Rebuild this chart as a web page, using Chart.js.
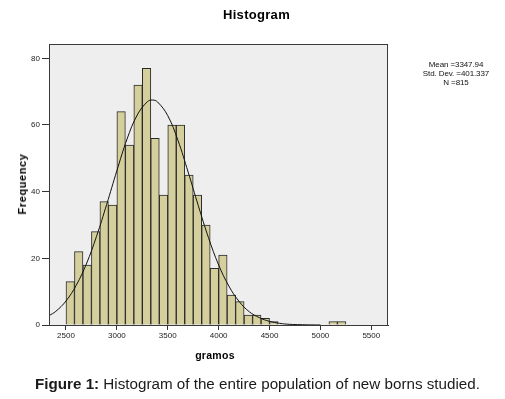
<!DOCTYPE html>
<html lang="en">
<head>
<meta charset="UTF-8">
<title>Histogram</title>
<script src="https://cdn.jsdelivr.net/npm/chart.js"></script>
<style>
  html, body { margin: 0; padding: 0; background: #fff; }
  body { width: 505px; height: 399px; position: relative; overflow: hidden; font-family: Arial, "Liberation Sans", sans-serif; }
  #c { position: absolute; left: 0; top: 0; }
  .txt { position: absolute; color: #000; white-space: nowrap; }
  #title { left: 223px; top: 7px; font-size: 13px; font-weight: bold; letter-spacing: 0.3px; }
  #ytitle { left: 22px; top: 184px; font-size: 11px; font-weight: bold; letter-spacing: 0.6px; transform: translate(-50%, -50%) rotate(-90deg); }
  #xtitle { left: 215px; top: 355px; font-size: 10.5px; font-weight: bold; letter-spacing: 0.3px; transform: translate(-50%, -50%); }
  #stats { left: 456px; top: 60px; font-size: 8px; line-height: 9px; text-align: center; transform: translateX(-50%); color: #111; letter-spacing: -0.1px; }
  #caption { left: 35px; top: 375px; font-size: 15.2px; color: #1a1a1a; }
</style>
</head>
<body>
<canvas id="c" width="505" height="399"></canvas>
<div class="txt" id="title">Histogram</div>
<div class="txt" id="ytitle">Frequency</div>
<div class="txt" id="xtitle">gramos</div>
<div class="txt" id="stats"></div>
<div class="txt" id="caption"><b>Figure 1:</b> Histogram of the entire population of new borns studied.</div>

<script>
// bin midpoints (gramos), bin width 83.3
var binMid = [2541.7, 2625, 2708.3, 2791.7, 2875, 2958.3, 3041.7, 3125, 3208.3, 3291.7,
              3375, 3458.3, 3541.7, 3625, 3708.3, 3791.7, 3875, 3958.3, 4041.7, 4125,
              4208.3, 4291.7, 4375, 4458.3, 4541.7, 5125, 5208.3];
var counts = [13, 22, 18, 28, 37, 36, 64, 54, 72, 77,
              56, 39, 60, 60, 45, 39, 30, 17, 21, 9,
              7, 3, 3, 2, 1, 1, 1];

// normal curve
var curveX = [2333, 2400, 2500, 2600, 2700, 2800, 2900, 3000, 3100, 3200, 3300, 3350,
              3400, 3500, 3600, 3700, 3800, 3900, 4000, 4100, 4200, 4300, 4400, 4500,
              4600, 4700, 4800, 4900, 5000];
var curveY = [2.8, 4.1, 7.2, 11.9, 18.3, 26.6, 36.2, 46.3, 55.8, 63.0, 67.0, 67.5,
              66.9, 62.8, 55.4, 45.9, 35.8, 26.2, 18.0, 11.7, 7.1, 4.0, 2.2, 1.1,
              0.5, 0.2, 0.1, 0.04, 0.01];

var xTicks = [2500, 3000, 3500, 4000, 4500, 5000, 5500];
var yTicks = [0, 20, 40, 60, 80];
var statsLines = ['Mean =3347.94', 'Std. Dev. =401.337', 'N =815'];

document.getElementById('stats').innerHTML = statsLines.join('<br>');

var barData = binMid.map(function (x, i) { return { x: x, y: counts[i] }; });
var lineData = curveX.map(function (x, i) { return { x: x, y: curveY[i] }; });

// plot background and frame
var framePlugin = {
    id: 'frame',
    beforeDraw: function (chart) {
        var a = chart.chartArea, ctx = chart.ctx;
        ctx.save();
        ctx.fillStyle = '#eeeeee';
        ctx.fillRect(a.left, a.top, a.right - a.left, a.bottom - a.top);
        ctx.restore();
    },
    afterDraw: function (chart) {
        var a = chart.chartArea, ctx = chart.ctx;
        ctx.save();
        ctx.strokeStyle = '#3a3a3a';
        ctx.lineWidth = 1;
        ctx.strokeRect(a.left + 0.5, a.top + 0.5, a.right - a.left - 1, a.bottom - a.top);
        ctx.restore();
    }
};

var ctx = document.getElementById('c').getContext('2d');
new Chart(ctx, {
    type: 'bar',
    data: {
        datasets: [{
            type: 'line',
            data: lineData,
            borderColor: '#111',
            borderWidth: 1,
            pointRadius: 0,
            tension: 0.4,
            fill: false,
            order: 0
        }, {
            type: 'bar',
            data: barData,
            backgroundColor: '#d4cf9c',
            borderColor: '#2a2a2a',
            borderWidth: 1,
            barPercentage: 1,
            categoryPercentage: 1,
            order: 1
        }]
    },
    options: {
        responsive: false,
        animation: false,
        layout: { padding: { left: 19, right: 117, top: 44, bottom: 54 } },
        plugins: { legend: { display: false }, tooltip: { enabled: false } },
        scales: {
            x: {
                type: 'linear',
                min: 2333,
                max: 5664,
                offset: false,
                afterFit: function (s) { s.height = 20; },
                afterBuildTicks: function (s) { s.ticks = xTicks.map(function (v) { return { value: v }; }); },
                grid: { offset: false, drawOnChartArea: false, drawTicks: true, tickLength: 5, color: '#333' },
                border: { display: true, color: '#3a3a3a' },
                ticks: {
                    padding: 1, maxRotation: 0, color: '#222', font: { family: 'Arial', size: 8 },
                    callback: function (v) { return String(v); }
                }
            },
            y: {
                min: 0,
                max: 84.3,
                afterFit: function (s) { s.width = 30; },
                afterBuildTicks: function (s) { s.ticks = yTicks.map(function (v) { return { value: v }; }); },
                grid: { offset: false, drawOnChartArea: false, drawTicks: true, tickLength: 7, color: '#333' },
                border: { display: true, color: '#3a3a3a' },
                ticks: {
                    padding: 2, color: '#222', font: { family: 'Arial', size: 8 },
                    callback: function (v) { return String(v); }
                }
            }
        }
    },
    plugins: [framePlugin]
});
</script>
</body>
</html>
